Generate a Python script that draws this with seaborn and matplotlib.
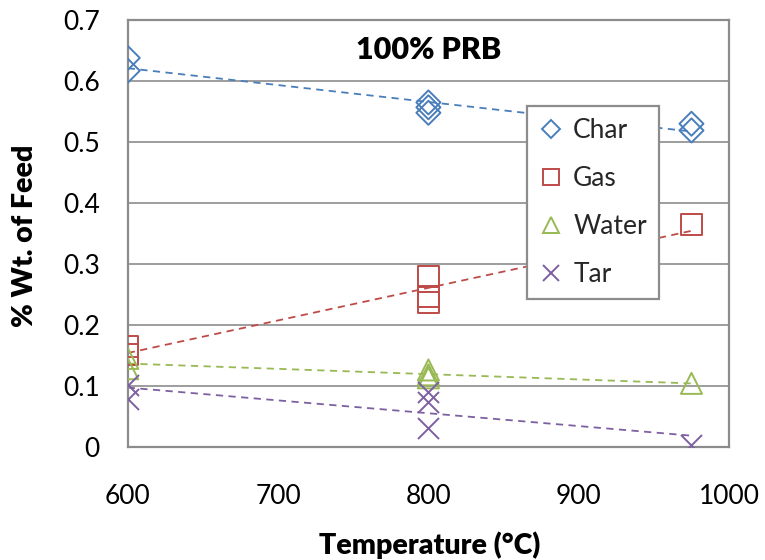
import numpy as np
import pandas as pd
import matplotlib
matplotlib.use("Agg")
import matplotlib.pyplot as plt
import seaborn as sns
from matplotlib.lines import Line2D
from matplotlib.ticker import FuncFormatter, MultipleLocator

# Product yields (fraction of feed) vs. pyrolysis temperature, 100% PRB coal
char_temp = [600, 600, 800, 800, 800, 975, 975]
char_yield = [0.638, 0.617, 0.565, 0.557, 0.548, 0.530, 0.519]

gas_temp = [600, 600, 800, 800, 800, 975]
gas_yield = [0.165, 0.152, 0.279, 0.247, 0.236, 0.365]

water_temp = [600, 600, 800, 800, 800, 975]
water_yield = [0.145, 0.128, 0.126, 0.118, 0.113, 0.104]

tar_temp = [600, 600, 800, 800, 800, 975]
tar_yield = [0.101, 0.079, 0.090, 0.074, 0.031, 0.002]

series_names = ["Char", "Gas", "Water", "Tar"]
series_temps = [char_temp, gas_temp, water_temp, tar_temp]
series_yields = [char_yield, gas_yield, water_yield, tar_yield]
colors = ["#4A7EBB", "#BE4B48", "#98B954", "#7D60A0"]
markers = ["D", "s", "^", "x"]
msizes = [150, 230, 230, 230]

sns.set_theme(style="white")
plt.rcParams["font.family"] = ["Lato", "DejaVu Sans"]

fig = plt.figure(figsize=(7.65, 5.6), dpi=100)
ax = fig.add_axes([0.167, 0.2023, 0.953 - 0.167, 0.964 - 0.2023])

grid_color = "#8C8C8C"
for yv in np.arange(0.1, 0.65, 0.1):
    ax.axhline(yv, color=grid_color, lw=1.2, zorder=0)

handles = []
for name, xs, ys, c, m, s in zip(series_names, series_temps, series_yields,
                                  colors, markers, msizes):
    df = pd.DataFrame({"temp": xs, "yield": ys})
    sns.regplot(data=df, x="temp", y="yield", ax=ax, ci=None, scatter=False,
                line_kws=dict(color=c, lw=1.3, ls=(0, (4, 3))))
    if m == "x":
        ax.scatter(df["temp"], df["yield"], marker=m, s=s, color=c,
                   linewidths=1.4, zorder=3)
    else:
        ax.scatter(df["temp"], df["yield"], marker=m, s=s, facecolors="none",
                   edgecolors=c, linewidths=1.4, zorder=3)
    handles.append(Line2D([], [], ls="none", marker=m, markersize=12 if m != "D" else 9.5,
                          markerfacecolor="none", markeredgecolor=c, color=c,
                          markeredgewidth=1.4, label=name))

ax.set_xlim(600, 1000)
ax.set_ylim(0, 0.7)
ax.xaxis.set_major_locator(MultipleLocator(100))
ax.yaxis.set_major_locator(MultipleLocator(0.1))
ax.yaxis.set_major_formatter(FuncFormatter(lambda v, p: f"{v:.1f}" if abs(v) > 1e-9 else "0"))
ax.tick_params(axis="x", length=0, pad=27, labelsize=19, labelcolor="black")
ax.tick_params(axis="y", length=0, pad=20, labelsize=19, labelcolor="black")
ax.set_xlabel("")
ax.set_ylabel("")

for sp in ax.spines.values():
    sp.set_visible(True)
    sp.set_color(grid_color)
    sp.set_linewidth(1.6)

ax.text(0.5, 0.93, "100% PRB", transform=ax.transAxes, ha="center", va="center",
        fontsize=22, fontweight="heavy", color="black")

fig.text(430 / 765, 1 - 545 / 560, "Temperature (°C)", ha="center", va="center",
         fontsize=20.5, fontweight="heavy", color="black")
fig.text(25 / 765, 1 - 236 / 560, "% Wt. of Feed", ha="center", va="center",
         rotation=90, fontsize=20.5, fontweight="heavy", color="black")

leg = ax.legend(handles=handles, loc="upper left", bbox_to_anchor=(0.664, 0.798),
                borderaxespad=0, fontsize=19, frameon=True, fancybox=False,
                framealpha=1, edgecolor=grid_color, labelspacing=0.87,
                handlelength=0.9, handletextpad=0.4, borderpad=0.45)
leg.get_frame().set_linewidth(1.6)

fig.savefig("out.png", dpi=100)
